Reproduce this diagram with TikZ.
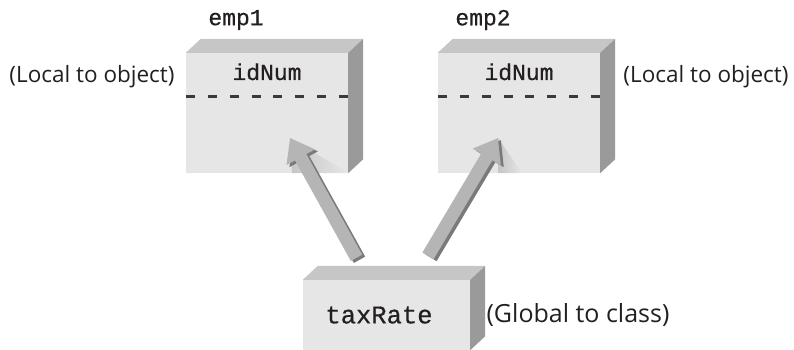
\documentclass[tikz,border=0pt]{standalone}
\usepackage{fontspec}
\setmonofont{Liberation Mono}[FakeBold=0.6]
\newfontfamily\notefont{Open Sans}
\usetikzlibrary{arrows.meta}

\definecolor{frontgray}{HTML}{E6E6E6}
\definecolor{topgray}{HTML}{C6C6C6}
\definecolor{sidegray}{HTML}{9A9A9A}
\definecolor{arrowlight}{HTML}{B5B5B5}
\definecolor{arrowdark}{HTML}{7A7A7A}
\definecolor{dashgray}{HTML}{3A3A3A}
\definecolor{inkgray}{HTML}{231F20}

% top and right faces of a box node
\newcommand{\cubefaces}[1]{%
    \fill[topgray] (#1.north west) -- ++(15,-14) -- ([shift={(15,-14)}]#1.north east) -- (#1.north east) -- cycle;
    \fill[sidegray] (#1.north east) -- ++(15,-14) -- ([shift={(15,-14)}]#1.south east) -- (#1.south east) -- cycle;
}

\begin{document}
\begin{tikzpicture}
[
    x=1pt, y=-1pt,
    box/.style={fill=frontgray, inner sep=0pt},
    fieldtext/.style={text=inkgray, font=\ttfamily\fontsize{23}{23}\selectfont},
    note/.style={text=inkgray, font=\notefont\fontsize{22.5}{22.5}\selectfont},
    dashline/.style={dashgray, line width=2.8pt, dash pattern=on 9pt off 12.9pt},
    fatarrow/.style={line width=13pt, -{Triangle[width=31pt,length=22pt]}}
]
    \useasboundingbox (0,0) rectangle (794,349);

    % the two objects
    \node [box, minimum width=162pt, minimum height=120pt] (emp1) at (267,113) {};
    \node [box, minimum width=162pt, minimum height=120pt] (emp2) at (519,113) {};
    \cubefaces{emp1}
    \cubefaces{emp2}
    \draw [dashline] ([yshift=-44pt]emp1.north west) -- ([yshift=-44pt]emp1.north east);
    \draw [dashline] ([yshift=-44pt]emp2.north west) -- ([yshift=-44pt]emp2.north east);

    \node [fieldtext] (id1) at ([yshift=-19pt]emp1.north) {idNum};
    \node [fieldtext] (id2) at ([yshift=-19pt]emp2.north) {idNum};
    \node [fieldtext] (name1) at (236,20) {emp1};
    \node [fieldtext] (name2) at (483,20) {emp2};
    \node [note] (local1) at (92,77) {(Local to object)};
    \node [note] (local2) at (706,77) {(Local to object)};

    % the class field
    \node [box, minimum width=167pt, minimum height=70pt] (tax) at (386.5,315) {};
    \cubefaces{tax}
    \node [fieldtext, font=\ttfamily\fontsize{25.5}{25.5}\selectfont] (taxtext) at (379,315) {taxRate};
    \node [note, font=\notefont\fontsize{25}{25}\selectfont] (global) at (578,315) {(Global to class)};

    % arrow ends
    \coordinate (tail1) at ([xshift=-30pt,yshift=22pt]tax.north);
    \coordinate (tip1) at ([xshift=23pt,yshift=-25pt]emp1.center);
    \coordinate (tail2) at ([xshift=41.5pt,yshift=24pt]tax.north);
    \coordinate (tip2) at ([xshift=-21pt,yshift=-25pt]emp2.center);

    % soft shadows under the heads
    \shade [left color=gray!45, right color=frontgray] (tip1) -- (emp1.south east) -- ([xshift=2pt]tip1 |- emp1.south) -- cycle;
    \shade [left color=gray!45, right color=frontgray] (tip2) -- ([xshift=24pt]tip2 |- emp2.south) -- (tip2 |- emp2.south) -- cycle;

    \draw [fatarrow, arrowdark] ([shift={(3,2)}]tail1) -- ([shift={(3,2)}]tip1);
    \draw [fatarrow, arrowlight] (tail1) -- (tip1);
    \draw [fatarrow, arrowdark] ([shift={(3,2)}]tail2) -- ([shift={(3,2)}]tip2);
    \draw [fatarrow, arrowlight] (tail2) -- (tip2);
\end{tikzpicture}
\end{document}
